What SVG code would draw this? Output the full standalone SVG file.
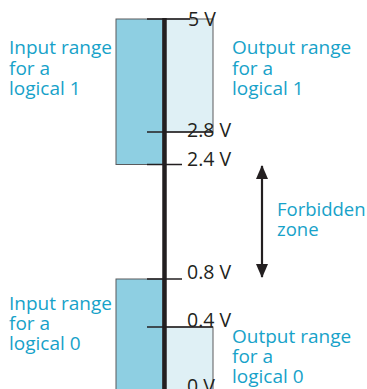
<svg xmlns="http://www.w3.org/2000/svg" width="367" height="389" viewBox="0 0 367 389">
<defs>
<style>
.lbl{font-family:"Open Sans","Liberation Sans",sans-serif;font-size:19px;fill:#17a2c9}
.fz{font-size:18.5px}
.volt{font-family:"Open Sans","Liberation Sans",sans-serif;font-size:19.5px;fill:#231f20}
.inrect{fill:#8ecfe2;stroke:#5a5b5d;stroke-width:1}
.outrect{fill:#dff0f5;stroke:#5a5b5d;stroke-width:1}
.tick{stroke:#231f20;stroke-width:1.6;fill:none}
.axis{stroke:#231f20;stroke-width:4.5;fill:none}
.arrow{stroke:#231f20;stroke-width:2.2;fill:none}
</style>
<marker id="ah" viewBox="0 0 14 12" refX="13" refY="6" markerWidth="14" markerHeight="12" markerUnits="userSpaceOnUse" orient="auto-start-reverse">
<path d="M0,0 L14,6 L0,12 Z" fill="#231f20"/>
</marker>
</defs>
<rect width="367" height="389" fill="#ffffff"/>

<g id="input1">
<rect class="inrect" x="116" y="19" width="47" height="145.5"/>
<text class="lbl" x="9" y="54">Input range</text>
<text class="lbl" x="9" y="75">for a</text>
<text class="lbl" x="9" y="95">logical 1</text>
</g>

<g id="output1">
<rect class="outrect" x="164" y="19" width="49" height="113"/>
<text class="lbl" x="232" y="54">Output range</text>
<text class="lbl" x="232" y="75">for a</text>
<text class="lbl" x="232" y="95">logical 1</text>
</g>

<g id="input0">
<rect class="inrect" x="116" y="279" width="47" height="120"/>
<text class="lbl" x="9" y="310">Input range</text>
<text class="lbl" x="9" y="330">for a</text>
<text class="lbl" x="9" y="350">logical 0</text>
</g>

<g id="output0">
<rect class="outrect" x="164" y="327" width="49" height="75"/>
<text class="lbl" x="232" y="343">Output range</text>
<text class="lbl" x="232" y="363">for a</text>
<text class="lbl" x="232" y="383">logical 0</text>
</g>

<g id="scale">
<line class="axis" x1="164.5" y1="18" x2="164.5" y2="395"/>
<line class="tick" x1="147" y1="19" x2="190" y2="19"/>
<line class="tick" x1="147" y1="132" x2="213" y2="132"/>
<line class="tick" x1="147" y1="164.5" x2="182" y2="164.5"/>
<line class="tick" x1="147" y1="279" x2="182" y2="279"/>
<line class="tick" x1="147" y1="327" x2="213" y2="327"/>
<text class="volt" x="188" y="26">5 V</text>
<text class="volt" x="187" y="136.5">2.8 V</text>
<text class="volt" x="187" y="166">2.4 V</text>
<text class="volt" x="187" y="279">0.8 V</text>
<text class="volt" x="187" y="327">0.4 V</text>
<text class="volt" x="187" y="393">0 V</text>
</g>

<g id="forbidden">
<text class="lbl fz" x="277" y="216">Forbidden</text>
<text class="lbl fz" x="277" y="236">zone</text>
</g>

<g id="connectors">
<line class="arrow" x1="262" y1="166" x2="262" y2="277" marker-start="url(#ah)" marker-end="url(#ah)"/>
</g>
</svg>
